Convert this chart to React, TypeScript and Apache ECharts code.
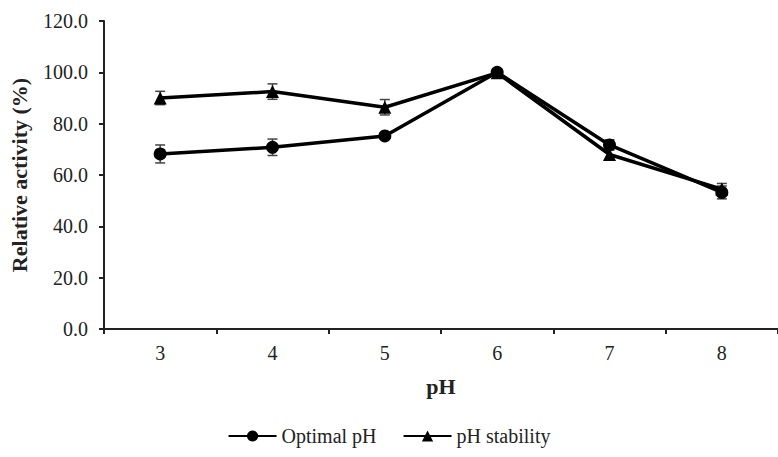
import React, { useEffect, useRef } from "react";
import * as echarts from "echarts";

const categories = ["3", "4", "5", "6", "7", "8"];
const optimalPH = [68.2, 70.8, 75.2, 100.0, 71.7, 53.2];
const optimalErr = [3.5, 3.2, 1.2, 1.2, 2.0, 2.5];
const stabilityPH = [90.0, 92.5, 86.4, 99.8, 68.0, 54.5];
const stabilityErr = [2.6, 3.0, 3.0, 1.2, 2.0, 2.2];
const yTicks = { min: 0, max: 120, interval: 20 };

const FONT = "Liberation Serif";

function errData(vals: number[], errs: number[]) {
  return vals.map((v, i) => [i, v - errs[i], v + errs[i]]);
}

function errorSeries(name: string, vals: number[], errs: number[]) {
  return {
    type: "custom",
    name: name + "_err",
    z: 1,
    silent: true,
    data: errData(vals, errs),
    renderItem: (params: any, api: any) => {
      const x = api.value(0);
      const lo = api.coord([x, api.value(1)]);
      const hi = api.coord([x, api.value(2)]);
      const w = 5;
      const style = { stroke: "#444", lineWidth: 1.5 };
      return {
        type: "group",
        children: [
          { type: "line", shape: { x1: lo[0], y1: lo[1], x2: hi[0], y2: hi[1] }, style },
          { type: "line", shape: { x1: lo[0] - w, y1: lo[1], x2: lo[0] + w, y2: lo[1] }, style },
          { type: "line", shape: { x1: hi[0] - w, y1: hi[1], x2: hi[0] + w, y2: hi[1] }, style },
        ],
      };
    },
  };
}

export default function App() {
  const ref = useRef<HTMLDivElement>(null);
  useEffect(() => {
    if (!ref.current) return;
    const chart = echarts.init(ref.current, null, { renderer: "svg" });
    chart.setOption({
      animation: false,
      textStyle: { fontFamily: FONT },
      grid: { left: 104, top: 21, bottom: 128, width: 682 },
      legend: {
        data: ["Optimal pH", "pH stability"],
        bottom: 6,
        left: "center",
        itemWidth: 48,
        itemHeight: 14,
        itemGap: 26,
        textStyle: { fontFamily: FONT, fontSize: 20, color: "#222" },
      },
      xAxis: {
        type: "category",
        data: categories,
        name: "pH",
        nameLocation: "middle",
        nameGap: 46,
        nameTextStyle: { fontFamily: FONT, fontSize: 22, fontWeight: "bold", color: "#222" },
        axisLine: { lineStyle: { color: "#222", width: 2 } },
        axisTick: { show: true, length: 5, lineStyle: { color: "#222", width: 2 } },
        axisLabel: { fontFamily: FONT, fontSize: 20, color: "#222", margin: 14 },
      },
      yAxis: {
        type: "value",
        min: yTicks.min,
        max: yTicks.max,
        interval: yTicks.interval,
        name: "Relative activity (%)",
        nameLocation: "middle",
        nameGap: 74,
        nameTextStyle: { fontFamily: FONT, fontSize: 22, fontWeight: "bold", color: "#222" },
        axisLine: { show: true, lineStyle: { color: "#222", width: 2 } },
        axisTick: { show: true, length: 5, lineStyle: { color: "#222", width: 2 } },
        axisLabel: {
          fontFamily: FONT,
          fontSize: 20,
          color: "#222",
          margin: 16,
          formatter: (v: number) => v.toFixed(1),
        },
        splitLine: { show: false },
      },
      series: [
        errorSeries("Optimal pH", optimalPH, optimalErr),
        errorSeries("pH stability", stabilityPH, stabilityErr),
        {
          type: "line",
          name: "Optimal pH",
          data: optimalPH,
          z: 3,
          symbol: "circle",
          symbolSize: 13,
          lineStyle: { color: "#000", width: 3.5 },
          itemStyle: { color: "#000" },
        },
        {
          type: "line",
          name: "pH stability",
          data: stabilityPH,
          z: 3,
          symbol: "triangle",
          symbolSize: 13,
          lineStyle: { color: "#000", width: 3.5 },
          itemStyle: { color: "#000" },
        },
      ],
    });
    return () => chart.dispose();
  }, []);
  return (
    <div
      ref={ref}
      style={{ position: "absolute", left: 0, top: 0, width: 778, height: 457 }}
    />
  );
}
